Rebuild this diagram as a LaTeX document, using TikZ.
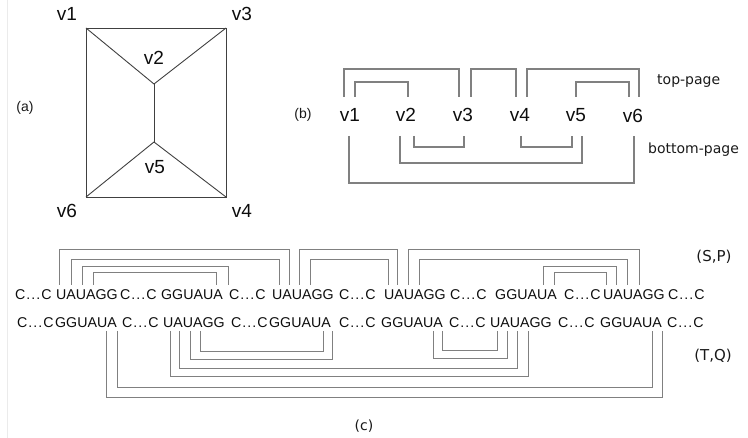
\documentclass[tikz,border=0pt]{standalone}
\usepackage{fontspec}
\setmainfont{Liberation Sans}
\newfontfamily\dvfont{DejaVu Sans}
\newcommand\seqgap{C\kern1pt.\kern1pt.\kern1pt.\kern1pt C}
\begin{document}
\begin{tikzpicture}[x=1pt,y=-1pt,
  lab/.style={inner sep=0pt,anchor=base,font=\fontsize{19}{19}\selectfont,text=black!95},
  tag/.style={inner sep=0pt,font=\fontsize{14}{14}\selectfont,text=black!90},
  dvtag/.style={inner sep=0pt,font=\dvfont\fontsize{14}{14}\selectfont,text=black!90},
  seq/.style={inner sep=0pt,anchor=base west,font=\fontsize{14.2}{14}\selectfont,text=black!95},
  gedge/.style={draw=black!75,line width=0.9pt},
  arcline/.style={draw=black!50,line width=1pt},
]
\useasboundingbox (0,0) rectangle (748,438);
\draw[black!8,line width=0.8pt] (7,0) -- (7,438);

% ---------- (a) ----------
\coordinate (A1) at (86,28);
\coordinate (A3) at (226,28);
\coordinate (A4) at (226,197);
\coordinate (A6) at (86,197);
\coordinate (A2) at (154,84);
\coordinate (A5) at (154,142);
\draw[gedge] (A1) -- (A3) -- (A4) -- (A6) -- cycle;
\draw[gedge] (A1) -- (A2) -- (A3);
\draw[gedge] (A2) -- (A5);
\draw[gedge] (A6) -- (A5) -- (A4);
\node[lab] (la1) at (67,21) {v1};
\node[lab] (la3) at (242,21) {v3};
\node[lab] (la2) at (154,65) {v2};
\node[lab] (la5) at (155,174) {v5};
\node[lab] (la6) at (67,218) {v6};
\node[lab] (la4) at (242,218) {v4};
\node[tag] (ta) at (25,108) {(a)};

% ---------- (b) ----------
\node[tag] (tb) at (303,115) {(b)};
\node[lab] (b1) at (350,122) {v1};
\node[lab] (b2) at (406,122) {v2};
\node[lab] (b3) at (463,122) {v3};
\node[lab] (b4) at (520,122) {v4};
\node[lab] (b5) at (576,122) {v5};
\node[lab] (b6) at (633,123) {v6};
\coordinate (btop) at (0,97);
\coordinate (bbot) at (0,136);
\foreach \a/\b/\h in {344/459/69, 355/408/82, 471/516/69, 527/639/69, 576/629/82}
  \draw[arcline,line width=1.2pt] (\a,0 |- btop) |- (\b,\h) -- (\b,0 |- btop);
\foreach \a/\b/\h in {414/464/147, 521/572/147, 400/582/163, 349/634/183}
  \draw[arcline,line width=1.2pt] (\a,0 |- bbot) |- (\b,\h) -- (\b,0 |- bbot);
\node[dvtag,anchor=west] (tp) at (657,81) {top-page};
\node[dvtag,anchor=west] (bp) at (648,150) {bottom-page};

% ---------- (c) ----------
\foreach \x/\t [count=\i] in {15/\seqgap, 56/UAUAGG, 120/\seqgap, 161/GGUAUA,
    229/\seqgap, 272/UAUAGG, 339/\seqgap, 384/UAUAGG, 450/\seqgap, 495/GGUAUA,
    564/\seqgap, 603/UAUAGG, 668/\seqgap}
  \node[seq] (r1-\i) at (\x,300) {\t};
\foreach \x/\t [count=\i] in {17/\seqgap, 55/GGUAUA, 122/\seqgap, 163/UAUAGG,
    231/\seqgap, 269/GGUAUA, 339/\seqgap, 381/GGUAUA, 449/\seqgap, 490/UAUAGG,
    558/\seqgap, 600/GGUAUA, 667/\seqgap}
  \node[seq] (r2-\i) at (\x,328) {\t};
\coordinate (ctop) at (0,285);
\coordinate (cbot) at (0,331);
\foreach \a/\b/\h in {59/289/250, 71/279/260, 82/228/267, 93/216/273,
    299/397/250, 310/388/260, 408/639/250, 419/627/260, 543/616/267, 554/606/273}
  \draw[arcline] (\a,0 |- ctop) |- (\b,\h) -- (\b,0 |- ctop);
\foreach \a/\b/\h in {106/662/398, 117/652/388, 170/528/377, 179/517/369,
    190/332/360, 200/323/352, 433/507/359, 442/497/351}
  \draw[arcline] (\a,0 |- cbot) |- (\b,\h) -- (\b,0 |- cbot);
\node[dvtag,font=\dvfont\fontsize{15}{15}\selectfont] (sp) at (714,257) {(S,P)};
\node[dvtag,font=\dvfont\fontsize{15}{15}\selectfont] (tq) at (713,356) {(T,Q)};
\node[dvtag] (tc) at (364,426) {(c)};
\end{tikzpicture}
\end{document}
